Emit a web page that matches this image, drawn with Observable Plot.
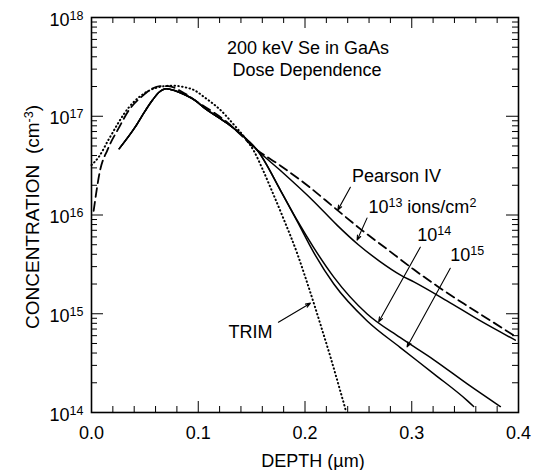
<!DOCTYPE html>
<html>
<head>
<meta charset="utf-8">
<script src="https://cdn.jsdelivr.net/npm/d3@7"></script>
<script src="https://cdn.jsdelivr.net/npm/@observablehq/plot@0.6"></script>
<style>
  html, body { margin: 0; padding: 0; background: #fff; }
  #chart svg { display: block; }
</style>
</head>
<body>
<div id="chart"></div>
<script>
// ---------- data ----------
const trimDepth = [0.000, 0.007, 0.016, 0.035, 0.054, 0.066, 0.076, 0.087, 0.097, 0.105, 0.121, 0.133, 0.146, 0.152, 0.160, 0.168, 0.180, 0.193, 0.200, 0.207, 0.214, 0.224, 0.233, 0.238];
const trimConc  = [3.2e16, 3.9e16, 5.8e16, 1.23e17, 1.82e17, 2.0e17, 2.04e17, 1.97e17, 1.82e17, 1.58e17, 1.15e17, 8.3e16, 5.6e16, 4.47e16, 2.95e16, 1.86e16, 9.1e15, 4.0e15, 2.4e15, 1.41e15, 8.1e14, 3.6e14, 1.66e14, 1.07e14];

const pearsonDepth = [0.002, 0.008, 0.015, 0.026, 0.035, 0.047, 0.056, 0.064, 0.072, 0.085, 0.100, 0.127, 0.155, 0.177, 0.202, 0.227, 0.252, 0.277, 0.302, 0.324, 0.349, 0.374, 0.397];
const pearsonConc  = [1.1e16, 2.82e16, 4.57e16, 7.76e16, 1.15e17, 1.58e17, 1.88e17, 2.02e17, 2.02e17, 1.76e17, 1.38e17, 8.7e16, 4.57e16, 3.16e16, 2.0e16, 1.2e16, 7.2e15, 4.5e15, 2.8e15, 1.9e15, 1.26e15, 8.5e14, 5.9e14];

const dose13Depth = [0.026, 0.041, 0.050, 0.057, 0.063, 0.070, 0.079, 0.088, 0.097, 0.105, 0.127, 0.146, 0.155, 0.177, 0.208, 0.230, 0.250, 0.270, 0.290, 0.302, 0.333, 0.364, 0.397];
const dose13Conc  = [4.7e16, 7.8e16, 1.12e17, 1.45e17, 1.74e17, 1.9e17, 1.8e17, 1.64e17, 1.45e17, 1.23e17, 8.5e16, 5.75e16, 4.57e16, 2.82e16, 1.38e16, 7.9e15, 5.0e15, 3.4e15, 2.45e15, 2.1e15, 1.35e15, 8.5e14, 5.4e14];

const dose14Depth = [0.026, 0.041, 0.050, 0.057, 0.063, 0.070, 0.079, 0.088, 0.097, 0.105, 0.127, 0.146, 0.155, 0.177, 0.193, 0.208, 0.227, 0.258, 0.289, 0.321, 0.352, 0.383];
const dose14Conc  = [4.7e16, 7.8e16, 1.12e17, 1.45e17, 1.74e17, 1.9e17, 1.8e17, 1.64e17, 1.45e17, 1.23e17, 8.5e16, 5.75e16, 4.57e16, 1.78e16, 8.7e15, 4.7e15, 2.35e15, 1.0e15, 5.75e14, 3.4e14, 1.95e14, 1.15e14];

const dose15Depth = [0.026, 0.041, 0.050, 0.057, 0.063, 0.070, 0.079, 0.088, 0.097, 0.105, 0.127, 0.146, 0.155, 0.177, 0.193, 0.208, 0.227, 0.258, 0.289, 0.321, 0.352, 0.358];
const dose15Conc  = [4.7e16, 7.8e16, 1.12e17, 1.45e17, 1.74e17, 1.9e17, 1.8e17, 1.64e17, 1.45e17, 1.23e17, 8.5e16, 5.75e16, 4.57e16, 1.78e16, 8.5e15, 4.2e15, 2.0e15, 8.5e14, 4.57e14, 2.45e14, 1.32e14, 1.15e14];

// annotation labels and arrows
const labelText  = ["Pearson IV", "10^{13} ions/cm^{2}", "10^{14}", "10^{15}", "TRIM"];
const labelDepth = [0.244, 0.2594, 0.3052, 0.3361, 0.1283];
const labelConc  = [2.16e16, 1.04e16, 5.43e15, 3.4e15, 5.65e14];

const arrowFromDepth = [0.2425, 0.2581, 0.308, 0.3361, 0.1751];
const arrowFromConc  = [1.91e16, 9.3e15, 4.72e15, 2.89e15, 8.2e14];
const arrowToDepth   = [0.2307, 0.2488, 0.269, 0.2956, 0.2051];
const arrowToConc    = [1.12e16, 5.56e15, 8.26e14, 4.61e14, 1.28e15];

// titles & axis labels
const titleLines = ["200 keV Se in GaAs", "Dose Dependence"];
const xAxisLabel = "DEPTH (µm)";
const yAxisLabel = "CONCENTRATION  (cm^{-3})";

// ticks
const xMajorTicks = [0, 0.1, 0.2, 0.3, 0.4];
const xMinorTicks = [0.02, 0.04, 0.06, 0.08, 0.12, 0.14, 0.16, 0.18, 0.22, 0.24, 0.26, 0.28, 0.32, 0.34, 0.36, 0.38];
const yMajorExp = [14, 15, 16, 17, 18];
const yMajorTicks = yMajorExp.map(e => Math.pow(10, e));
const yMinorTicks = [14, 15, 16, 17].flatMap(e => [2,3,4,5,6,7,8,9].map(m => m * Math.pow(10, e)));

// ---------- build ----------
const FONT = "'Liberation Sans', Arial, Helvetica, sans-serif";
const FS = 18;
const W = 535, H = 470, ML = 91, MR = 17, MT = 17, MB = 58;
const FH = H - MT - MB, FW = W - ML - MR;

const toRows = (xs, ys) => xs.map((d, i) => ({depth: d, conc: ys[i]}));
const labels = labelText.map((t, i) => ({text: t, depth: labelDepth[i], conc: labelConc[i]}));
const arrows = arrowFromDepth.map((d, i) => ({x1: d, y1: arrowFromConc[i], x2: arrowToDepth[i], y2: arrowToConc[i]}));

const lineOpts = {x: "depth", y: "conc", stroke: "black", curve: "monotone-x"};

const svg = Plot.plot({
  width: W, height: H,
  marginLeft: ML, marginRight: MR, marginTop: MT, marginBottom: MB,
  style: {fontFamily: FONT, background: "#fff", color: "black", overflow: "visible"},
  x: {domain: [0, 0.4], axis: null},
  y: {type: "log", domain: [1e14, 1e18], axis: null},
  marks: [
    // inward ticks on all four sides
    Plot.tickX(xMinorTicks, {x: d => d, insetTop: FH - 6, stroke: "black", strokeWidth: 1}),
    Plot.tickX(xMajorTicks, {x: d => d, insetTop: FH - 11, stroke: "black", strokeWidth: 1}),
    Plot.tickX(xMinorTicks, {x: d => d, insetBottom: FH - 6, stroke: "black", strokeWidth: 1}),
    Plot.tickX(xMajorTicks, {x: d => d, insetBottom: FH - 11, stroke: "black", strokeWidth: 1}),
    Plot.tickY(yMinorTicks, {y: d => d, insetRight: FW - 6, stroke: "black", strokeWidth: 1}),
    Plot.tickY(yMajorTicks, {y: d => d, insetRight: FW - 12, stroke: "black", strokeWidth: 1}),
    Plot.tickY(yMinorTicks, {y: d => d, insetLeft: FW - 6, stroke: "black", strokeWidth: 1}),
    Plot.tickY(yMajorTicks, {y: d => d, insetLeft: FW - 12, stroke: "black", strokeWidth: 1}),
    Plot.frame({stroke: "black", strokeWidth: 1.6}),

    // tick labels
    Plot.text(xMajorTicks, {x: d => d, text: d => d.toFixed(1), frameAnchor: "bottom", textAnchor: "middle", lineAnchor: "bottom", dy: 26, fontSize: FS, fill: "black"}),
    Plot.text(yMajorTicks, {y: d => d, text: (d, i) => "10^{" + yMajorExp[i] + "}", frameAnchor: "left", textAnchor: "end", lineAnchor: "bottom", dx: -8, dy: 8, fontSize: FS, fill: "black"}),

    // axis titles
    Plot.text([xAxisLabel], {text: d => d, frameAnchor: "bottom", textAnchor: "middle", lineAnchor: "bottom", dx: 8, dy: 54, fontSize: FS, fill: "black"}),
    Plot.text([yAxisLabel], {text: d => d, frameAnchor: "left", textAnchor: "middle", rotate: -90, lineAnchor: "bottom", dx: -53, dy: 2, fontSize: FS + 1, fill: "black"}),

    // chart title inside frame
    Plot.text([titleLines[0]], {text: d => d, frameAnchor: "top", textAnchor: "middle", lineAnchor: "bottom", dx: 3, dy: 36.5, fontSize: FS, fill: "black"}),
    Plot.text([titleLines[1]], {text: d => d, frameAnchor: "top", textAnchor: "middle", lineAnchor: "bottom", dx: 2, dy: 58.5, fontSize: FS, fill: "black"}),

    // curves
    Plot.line(toRows(trimDepth, trimConc), {...lineOpts, strokeWidth: 2, strokeDasharray: "0.5,3.3", strokeLinecap: "round"}),
    Plot.line(toRows(pearsonDepth, pearsonConc), {...lineOpts, strokeWidth: 1.8, strokeDasharray: "9,5"}),
    Plot.line(toRows(dose13Depth, dose13Conc), {...lineOpts, strokeWidth: 1.5}),
    Plot.line(toRows(dose14Depth, dose14Conc), {...lineOpts, strokeWidth: 1.5}),
    Plot.line(toRows(dose15Depth, dose15Conc), {...lineOpts, strokeWidth: 1.5}),

    // annotations
    Plot.arrow(arrows, {x1: "x1", y1: "y1", x2: "x2", y2: "y2", stroke: "black", strokeWidth: 1.1, headLength: 7, headAngle: 40}),
    Plot.text(labels, {x: "depth", y: "conc", text: "text", textAnchor: "start", lineAnchor: "bottom", fontSize: FS, fill: "black"})
  ]
});

// turn "^{...}" into superscript tspans
function supify(root) {
  const NS = "http://www.w3.org/2000/svg";
  root.querySelectorAll("text").forEach(t => {
    const s = t.textContent;
    if (!s.includes("^{")) return;
    t.textContent = "";
    let shifted = false;
    const add = (txt, sup) => {
      const ts = document.createElementNS(NS, "tspan");
      ts.textContent = txt;
      if (sup) { ts.setAttribute("font-size", "12.5"); ts.setAttribute("dy", "-6"); shifted = true; }
      else if (shifted) { ts.setAttribute("dy", "6"); shifted = false; }
      t.appendChild(ts);
    };
    const re = /\^\{([^}]*)\}/g;
    let last = 0, m;
    while ((m = re.exec(s))) {
      if (m.index > last) add(s.slice(last, m.index), false);
      add(m[1], true);
      last = re.lastIndex;
    }
    if (last < s.length) add(s.slice(last), false);
    t.setAttribute("style", (t.getAttribute("style") || "") + ";white-space:pre");
  });
}
supify(svg);
document.getElementById("chart").appendChild(svg);
</script>
</body>
</html>
